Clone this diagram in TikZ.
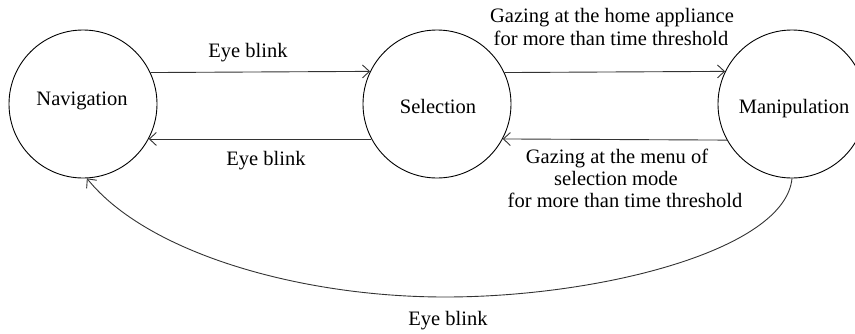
\documentclass[tikz,border=0pt]{standalone}
\usepackage{fontspec}
\setmainfont{Liberation Serif}
\usetikzlibrary{arrows.meta}
\begin{document}
\begin{tikzpicture}[x=1pt,y=-1pt,
  state/.style={draw=black,line width=0.9pt,circle,minimum size=148pt,inner sep=0pt},
  lbl/.style={inner sep=0pt,anchor=base,font=\fontsize{20.5}{22}\selectfont},
  conn/.style={draw=black!80,line width=0.9pt,-{Straight Barb[length=7pt,width=13pt,line width=0.9pt]}}]
\useasboundingbox (0,0) rectangle (855,333);
\node[state] (nav) at (83,104) {};
\node[state] (sel) at (437,104) {};
\node[state] (man) at (792,104) {};
\node[lbl] (tnav) at (82,105) {Navigation};
\node[lbl] (tsel) at (438,113) {Selection};
\node[lbl] (tman) at (794,113) {Manipulation};
\draw[conn] (nav.25.6) -- (sel.154.4);
\draw[conn] (sel.208.2) -- (nav.-28.2);
\draw[conn] (sel.25.6) -- (man.154.4);
\draw[conn] (man.-151.8) -- (sel.-28.2);
\coordinate (low) at (445,297);
\draw[conn] (man.-90) .. controls (785,250) and (600,297) .. (low)
  .. controls (300,297) and (147,253) .. (nav.-87);
\node[lbl] (e1) at (248,57) {Eye blink};
\node[lbl] (e2) at (266,165) {Eye blink};
\node[lbl] (e3) at (448,325) {Eye blink};
\node[lbl] (g1) at (612,22) {Gazing at the home appliance};
\node[lbl] (g2) at (611,45) {for more than time threshold};
\node[lbl] (m1) at (617,163) {Gazing at the menu of};
\node[lbl] (m2) at (616,185) {selection mode};
\node[lbl] (m3) at (625,207) {for more than time threshold};
\end{tikzpicture}
\end{document}
